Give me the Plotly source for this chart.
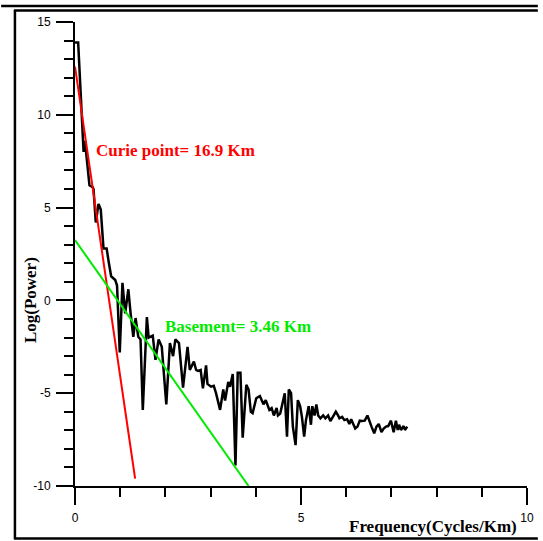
import plotly.graph_objects as go

# ---- data ----
freq = [0.00, 0.07, 0.19, 0.22, 0.32, 0.39, 0.41, 0.46, 0.52, 0.57, 0.63, 0.70, 0.75, 0.80,
        0.89, 0.93, 0.99, 1.05, 1.11, 1.18, 1.23, 1.29, 1.34, 1.40, 1.45, 1.50, 1.59, 1.63,
        1.72, 1.78, 1.85, 1.92, 2.02, 2.10, 2.17, 2.22, 2.30, 2.39, 2.49, 2.54, 2.63, 2.68,
        2.72, 2.78, 2.83, 2.90, 2.93, 3.01, 3.07, 3.12, 3.21, 3.28, 3.32, 3.39, 3.43, 3.49,
        3.55, 3.60, 3.66, 3.71, 3.79, 3.84, 3.89, 3.93, 4.01, 4.09, 4.17, 4.22, 4.30, 4.35,
        4.40, 4.46, 4.49, 4.54, 4.59, 4.64, 4.69, 4.73, 4.78, 4.82, 4.88, 4.93, 4.98, 5.02,
        5.07, 5.11, 5.17, 5.22, 5.25, 5.30, 5.34, 5.38, 5.43, 5.49, 5.54, 5.60, 5.65, 5.70,
        5.77, 5.82, 5.85, 5.91, 5.96, 6.02, 6.07, 6.11, 6.16, 6.20, 6.25, 6.30, 6.35, 6.41,
        6.47, 6.52, 6.56, 6.62, 6.67, 6.72, 6.78, 6.83, 6.88, 6.93, 6.99, 7.05, 7.10, 7.14,
        7.17, 7.21, 7.27, 7.30, 7.35]
log_power = [13.9, 13.9, 8.0, 8.6, 6.2, 6.1, 6.0, 4.2, 5.2, 4.9, 2.8, 2.8, 2.0, 1.3,
             1.1, 0.8, -2.8, 0.95, -0.7, 0.6, -0.7, -1.96, -0.95, -1.96, -2.1, -5.9, -0.9, -2.0,
             -1.9, -3.2, -2.1, -2.5, -5.6, -2.3, -3.0, -2.1, -2.3, -4.7, -2.5, -3.75, -3.3, -3.75,
             -3.8, -3.75, -4.74, -3.5, -4.5, -4.65, -4.6, -5.0, -5.9, -4.8, -5.4, -4.4, -4.65, -3.97,
             -8.9, -3.9, -3.9, -7.4, -4.55, -4.8, -6.0, -6.07, -5.27, -5.15, -5.6, -5.37, -5.9, -5.8,
             -6.2, -5.8, -6.2, -6.1, -5.55, -5.0, -7.34, -4.8, -5.0, -6.8, -7.8, -5.37, -5.7, -6.27,
             -7.34, -6.45, -5.7, -6.7, -5.7, -6.2, -5.6, -6.2, -6.35, -6.2, -6.35, -6.2, -6.5, -6.27,
             -6.0, -6.2, -6.35, -6.27, -6.45, -6.4, -6.66, -6.4, -6.7, -6.9, -6.8, -6.48, -6.5, -6.48,
             -6.2, -6.6, -6.8, -7.16, -6.8, -6.66, -7.1, -6.9, -6.8, -6.77, -6.48, -7.1, -6.48, -6.98,
             -6.7, -6.98, -6.77, -6.98, -6.8]

curie_x = [0.0, 1.33]
curie_y = [12.6, -9.6]
basement_x = [0.0, 3.84]
basement_y = [3.25, -10.0]

x_tickvals = [0, 5, 10]
y_tickvals = [-10, -5, 0, 5, 10, 15]

RED = "#ff0000"
GREEN = "#00ea00"
SERIF = "Liberation Serif, Times New Roman, serif"
SANS = "Liberation Sans, Arial, sans-serif"

fig = go.Figure()
fig.add_trace(go.Scatter(x=freq, y=log_power, mode="lines",
                         line=dict(color="black", width=2.5), showlegend=False))
fig.add_trace(go.Scatter(x=curie_x, y=curie_y, mode="lines",
                         line=dict(color=RED, width=2), showlegend=False))
fig.add_trace(go.Scatter(x=basement_x, y=basement_y, mode="lines",
                         line=dict(color=GREEN, width=2), showlegend=False))

axis_common = dict(showgrid=False, zeroline=False, showline=True, linecolor="black",
                   linewidth=2, ticks="outside", ticklen=17, tickwidth=2, tickcolor="black",
                   tickfont=dict(family=SANS, size=12, color="black"),
                   minor=dict(ticks="outside", dtick=1, ticklen=9, tickwidth=2,
                              tickcolor="black", showgrid=False))

fig.update_xaxes(range=[0, 10], tickvals=x_tickvals, ticktext=[str(v) for v in x_tickvals],
                 ticklabelstandoff=3, **axis_common)
fig.update_yaxes(range=[-10, 15], tickvals=y_tickvals, ticktext=[str(v) for v in y_tickvals],
                 ticklabelstandoff=3, **axis_common)

annotations = [
    dict(text="<b>Curie point= 16.9 Km</b>", x=0.41, y=8.1, xref="x", yref="y",
         xanchor="left", yanchor="middle", showarrow=False,
         font=dict(family=SERIF, size=17, color=RED)),
    dict(text="<b>Basement= 3.46 Km</b>", x=1.95, y=-1.43, xref="x", yref="y",
         xanchor="left", yanchor="middle", showarrow=False,
         font=dict(family=SERIF, size=17, color=GREEN)),
    dict(text="<b>Frequency(Cycles/Km)</b>", x=0.792, y=-0.088, xref="paper", yref="paper",
         xanchor="center", yanchor="middle", showarrow=False,
         font=dict(family=SERIF, size=17, color="black")),
    dict(text="<b>Log(Power)</b>", x=-0.098, y=0.40, xref="paper", yref="paper",
         xanchor="center", yanchor="middle", showarrow=False, textangle=-90,
         font=dict(family=SERIF, size=17, color="black")),
]

# frame lines (paper coords; plot area spans px 75..534 horizontally, 22..486 vertically)
def px_x(p):
    return (p - 75) / 459.0

def px_y(p):
    return (486 - p) / 464.0

shapes = [
    dict(type="line", xref="paper", yref="paper", x0=px_x(0), x1=px_x(545),
         y0=px_y(6), y1=px_y(6), line=dict(color="black", width=2.5)),
    dict(type="line", xref="paper", yref="paper", x0=px_x(13), x1=px_x(545),
         y0=px_y(10.5), y1=px_y(10.5), line=dict(color="black", width=2.5)),
    dict(type="line", xref="paper", yref="paper", x0=px_x(14), x1=px_x(14),
         y0=px_y(10), y1=px_y(539), line=dict(color="black", width=2.5)),
    dict(type="line", xref="paper", yref="paper", x0=px_x(13), x1=px_x(545),
         y0=px_y(538.5), y1=px_y(538.5), line=dict(color="black", width=2.5)),
]

fig.update_layout(width=543, height=541, margin=dict(l=75, r=9, t=22, b=55),
                  paper_bgcolor="white", plot_bgcolor="white",
                  annotations=annotations, shapes=shapes, showlegend=False)

fig.write_html("out.html")
